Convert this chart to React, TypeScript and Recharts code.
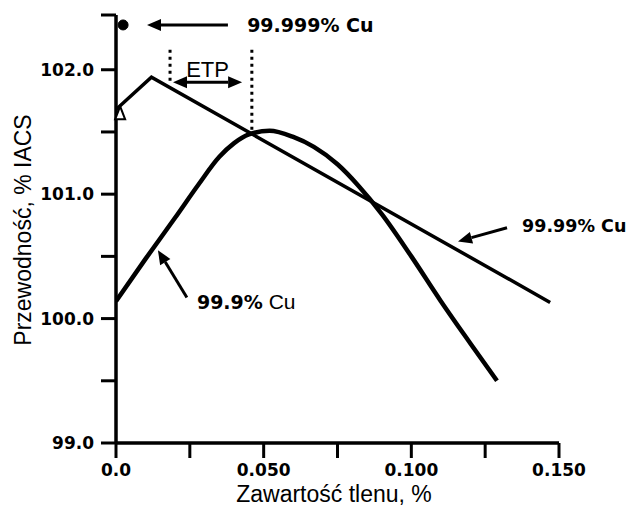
import React from "react";
import {
  ComposedChart,
  Line,
  ReferenceDot,
  ReferenceLine,
  XAxis,
  YAxis,
} from "recharts";

// 99.9% Cu curve
const CU_999_X = [0, 0.01, 0.02, 0.028, 0.035, 0.04, 0.045, 0.052, 0.06, 0.067, 0.075, 0.082, 0.09, 0.1, 0.11, 0.12, 0.129];
const CU_999_Y = [100.14, 100.48, 100.81, 101.08, 101.3, 101.41, 101.48, 101.51, 101.46, 101.38, 101.24, 101.07, 100.84, 100.5, 100.14, 99.8, 99.5];

// 99.99% Cu straight segments
const CU_9999_X = [0, 0.012, 0.147];
const CU_9999_Y = [101.68, 101.94, 100.13];

const X_TICKS = [0, 0.025, 0.05, 0.075, 0.1, 0.125, 0.15];
const X_LABELED = [0, 0.05, 0.1, 0.15];
const X_LABEL_TEXT = ["0.0", "0.050", "0.100", "0.150"];
const Y_TICKS = [99, 99.5, 100, 100.5, 101, 101.5, 102, 102.44];
const Y_LABELED = [99, 100, 101, 102];
const Y_LABEL_TEXT = ["99.0", "100.0", "101.0", "102.0"];

// annotation anchors, in data units
const DOT_99999 = { x: 0.0024, y: 102.36 };
const TRIANGLE = { x: 0.0014, y: 101.65 };
const ARROW_99999 = [{ x: 0.0379, y: 102.36 }, { x: 0.0105, y: 102.36 }];
const ARROW_9999 = [{ x: 0.1324, y: 100.73 }, { x: 0.1158, y: 100.62 }];
const ARROW_999 = [{ x: 0.024, y: 100.17 }, { x: 0.0142, y: 100.55 }];
const ETP_ARROW = [{ x: 0.0193, y: 101.9 }, { x: 0.0427, y: 101.9 }];
const ETP_LEFT = [{ x: 0.0183, y: 102.16 }, { x: 0.0183, y: 101.9 }];
const ETP_RIGHT = [{ x: 0.046, y: 102.16 }, { x: 0.046, y: 101.5 }];
const TXT_99999 = { x: 0.0444, y: 102.36 };
const TXT_9999 = { x: 0.1375, y: 100.75 };
const TXT_999 = { x: 0.0274, y: 100.13 };
const TXT_ETP = { x: 0.031, y: 102.0 };

const FONT = '"Liberation Sans", Arial, sans-serif';
const HEAVY = '"DejaVu Sans", sans-serif';

const cu999 = CU_999_X.map((x, i) => ({ x, y: CU_999_Y[i] }));
const cu9999 = CU_9999_X.map((x, i) => ({ x, y: CU_9999_Y[i] }));

function head(x: number, y: number, ang: number) {
  const len = 14;
  const half = 6;
  const bx = x - len * Math.cos(ang);
  const by = y - len * Math.sin(ang);
  const pts = [
    [x, y],
    [bx + half * Math.sin(ang), by - half * Math.cos(ang)],
    [bx - half * Math.sin(ang), by + half * Math.cos(ang)],
  ];
  return { bx, by, points: pts.map((p) => p.join(",")).join(" ") };
}

function ArrowShape(props: any) {
  const { x1, y1, x2, y2 } = props;
  const ang = Math.atan2(y2 - y1, x2 - x1);
  const h = head(x2, y2, ang);
  return (
    <g>
      <line x1={x1} y1={y1} x2={h.bx} y2={h.by} stroke="#000" strokeWidth={3} />
      <polygon points={h.points} fill="#000" />
    </g>
  );
}

function DoubleArrowShape(props: any) {
  const { x1, y1, x2, y2 } = props;
  const ang = Math.atan2(y2 - y1, x2 - x1);
  const a = head(x2, y2, ang);
  const b = head(x1, y1, ang + Math.PI);
  return (
    <g>
      <line x1={b.bx} y1={b.by} x2={a.bx} y2={a.by} stroke="#000" strokeWidth={3} />
      <polygon points={a.points} fill="#000" />
      <polygon points={b.points} fill="#000" />
    </g>
  );
}

function DottedShape(props: any) {
  const { x1, y1, x2, y2 } = props;
  return <line x1={x1} y1={y1} x2={x2} y2={y2} stroke="#000" strokeWidth={3} strokeDasharray="3 4" />;
}

function XTick({ x, y, payload }: any) {
  const i = X_LABELED.indexOf(payload.value);
  if (i < 0) return null;
  return (
    <text x={x} y={y + 16} textAnchor="middle" fontFamily={HEAVY} fontWeight="bold" fontSize={17} fill="#000">
      {X_LABEL_TEXT[i]}
    </text>
  );
}

function YTick({ x, y, payload }: any) {
  const i = Y_LABELED.indexOf(payload.value);
  if (i < 0) return null;
  return (
    <text x={x - 5} y={y} dy={6} textAnchor="end" fontFamily={HEAVY} fontWeight="bold" fontSize={17} fill="#000">
      {Y_LABEL_TEXT[i]}
    </text>
  );
}

const textAt = (content: React.ReactNode, family = HEAVY, weight = "bold", size = 19, anchor = "start") =>
  (p: any) => (
    <text x={p.cx} y={p.cy} dy={7} textAnchor={anchor} fontFamily={family} fontWeight={weight} fontSize={size} fill="#000">
      {content}
    </text>
  );

export default function App() {
  return (
    <div style={{ position: "absolute", left: 0, top: 0, background: "#fff" }}>
      <ComposedChart width={633} height={508} margin={{ top: 15, right: 74, bottom: 25, left: 56 }}>
        <XAxis
          type="number"
          dataKey="x"
          domain={[0, 0.15]}
          ticks={X_TICKS}
          tick={<XTick />}
          tickSize={15}
          height={40}
          axisLine={{ stroke: "#000", strokeWidth: 3.5 }}
          tickLine={{ stroke: "#000", strokeWidth: 3 }}
          allowDataOverflow
          label={{
            content: () => (
              <text x={334} y={502} textAnchor="middle" fontFamily={FONT} fontSize={23} fill="#000">
                Zawartość tlenu, %
              </text>
            ),
          }}
        />
        <YAxis
          type="number"
          dataKey="y"
          domain={[99, 102.44]}
          ticks={Y_TICKS}
          tick={<YTick />}
          tickSize={15}
          width={60}
          axisLine={{ stroke: "#000", strokeWidth: 3.5 }}
          tickLine={{ stroke: "#000", strokeWidth: 3 }}
          allowDataOverflow
          label={{
            content: () => (
              <text
                x={23}
                y={230}
                transform="rotate(-90 23 230)"
                textAnchor="middle"
                dominantBaseline="central"
                fontFamily={FONT}
                fontSize={23}
                fill="#000"
              >
                Przewodność, % IACS
              </text>
            ),
          }}
        />
        <Line
          data={cu999}
          dataKey="y"
          type="monotone"
          stroke="#000"
          strokeWidth={4.5}
          dot={false}
          activeDot={false}
          isAnimationActive={false}
        />
        <Line
          data={cu9999}
          dataKey="y"
          type="linear"
          stroke="#000"
          strokeWidth={3.5}
          dot={false}
          activeDot={false}
          isAnimationActive={false}
        />
        <ReferenceLine segment={ETP_LEFT} shape={<DottedShape />} />
        <ReferenceLine segment={ETP_RIGHT} shape={<DottedShape />} />
        <ReferenceLine segment={ETP_ARROW} shape={<DoubleArrowShape />} />
        <ReferenceLine segment={ARROW_99999} shape={<ArrowShape />} />
        <ReferenceLine segment={ARROW_9999} shape={<ArrowShape />} />
        <ReferenceLine segment={ARROW_999} shape={<ArrowShape />} />
        <ReferenceDot x={DOT_99999.x} y={DOT_99999.y} r={5} fill="#000" stroke="#000" />
        <ReferenceDot
          x={TRIANGLE.x}
          y={TRIANGLE.y}
          shape={(p: any) => (
            <polygon
              points={`${p.cx},${p.cy - 7} ${p.cx - 5},${p.cy + 6} ${p.cx + 5},${p.cy + 6}`}
              fill="#fff"
              stroke="#000"
              strokeWidth={2}
            />
          )}
        />
        <ReferenceDot x={TXT_99999.x} y={TXT_99999.y} shape={textAt("99.999% Cu")} />
        <ReferenceDot x={TXT_9999.x} y={TXT_9999.y} shape={textAt("99.99% Cu", HEAVY, "bold", 17.5)} />
        <ReferenceDot
          x={TXT_999.x}
          y={TXT_999.y}
          shape={textAt(
            <>
              <tspan fontFamily={HEAVY} fontWeight="bold">99.9%</tspan>
              <tspan fontFamily={FONT} fontWeight="normal" fontSize={21}> Cu</tspan>
            </>,
          )}
        />
        <ReferenceDot x={TXT_ETP.x} y={TXT_ETP.y} shape={textAt("ETP", FONT, "normal", 22, "middle")} />
      </ComposedChart>
    </div>
  );
}
